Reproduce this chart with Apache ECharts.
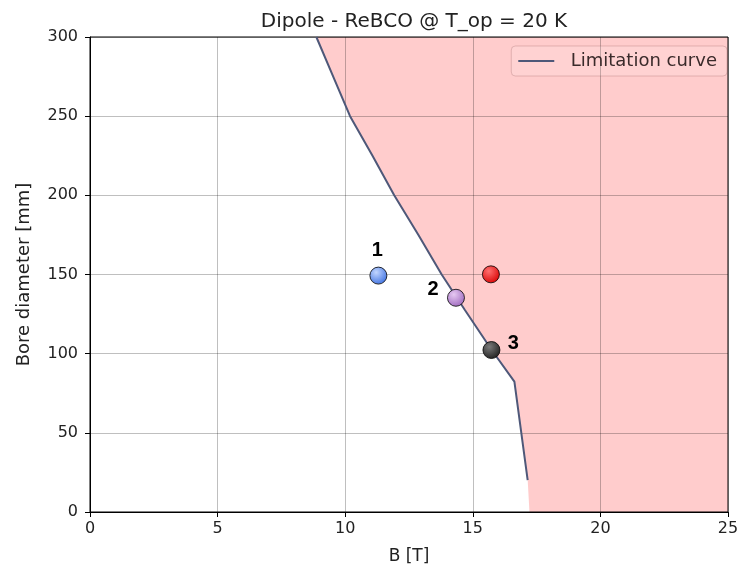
<!DOCTYPE html>
<html><head><meta charset="utf-8">
<script src="https://cdn.jsdelivr.net/npm/echarts@6/dist/echarts.min.js"></script>
<style>html,body{margin:0;padding:0;background:#fff}#c{width:739px;height:565px}</style>
</head><body><div id="c"></div>
<script>
// Limitation curve (B [T], bore diameter [mm])
const curveB = [8.87, 9.53, 10.19, 11.07, 11.92, 12.87, 13.78, 14.69, 15.74, 16.63, 17.15];
const curveD = [300, 275, 250, 225, 200, 175, 150, 127.6, 102.3, 82.3, 20.2];
// Extension of the forbidden region down to the axis and to the right
const fillExtB = [17.22, 25];
const fillExtD = [0, 0];
// Design points
const pointNames = ['1', '2', '', '3'];
const pointB = [11.3, 14.34, 15.71, 15.73];
const pointD = [149.3, 135.3, 150.1, 102.3];
const pointColors = [['#c2d6ff', '#3a6ee0'], ['#e6c8f2', '#9c66bc'], ['#ff7070', '#d80000'], ['#7a7a7a', '#1c1c1c']];

const curve = curveB.map((b, i) => [b, curveD[i]]);
const fillData = curve.concat(fillExtB.map((b, i) => [b, fillExtD[i]]));
const labelOffsets = [[-1, -25], [-23, -8], [0, 0], [22, -7]];
const pts = pointB.map((b, i) => ({
  value: [b, pointD[i]],
  itemStyle: {color: {type: 'radial', x: 0.38, y: 0.32, r: 0.75,
    colorStops: [{offset: 0, color: pointColors[i][0]}, {offset: 1, color: pointColors[i][1]}]}},
  label: {show: pointNames[i] !== '', formatter: pointNames[i], position: 'inside',
    offset: labelOffsets[i], color: '#000', opacity: 1, textBorderWidth: 0,
    fontFamily: 'Liberation Sans', fontSize: 20, fontWeight: 'bold'}
}));

const font = 'DejaVu Sans';
const chart = echarts.init(document.getElementById('c'), null, {renderer: 'canvas'});
chart.setOption({
  animation: false,
  backgroundColor: '#fff',
  title: {text: 'Dipole - ReBCO @ T_op = 20 K', left: 409, top: 7, textAlign: 'center',
    textStyle: {fontFamily: font, fontSize: 20, fontWeight: 'normal', color: '#222'}},
  legend: {
    right: 12, top: 46, itemWidth: 36, itemHeight: 2, itemGap: 6,
    padding: [6, 10, 6, 7],
    backgroundColor: 'rgba(255,255,255,0.12)', borderColor: 'rgba(120,60,60,0.22)', borderWidth: 1, borderRadius: 4,
    textStyle: {fontFamily: font, fontSize: 18, color: '#3a2a2a'},
    formatter: function (n) { return '  ' + n; },
    data: [{name: 'Limitation curve', icon: 'rect'}]
  },
  grid: {left: 90, right: 11, top: 37, bottom: 53, show: true, borderColor: '#000', borderWidth: 1, z: 4,
    containLabel: false, outerBoundsMode: 'none'},
  xAxis: {
    type: 'value', min: 0, max: 25, interval: 5, z: 3,
    name: 'B [T]', nameLocation: 'middle', nameGap: 36,
    nameTextStyle: {fontFamily: font, fontSize: 17, color: '#222'},
    axisLine: {show: true, onZero: false, lineStyle: {color: '#000'}},
    axisTick: {show: true, length: 5, lineStyle: {color: '#000'}},
    axisLabel: {fontFamily: font, fontSize: 16, color: '#222', margin: 9},
    splitLine: {show: true, lineStyle: {color: 'rgba(0,0,0,0.25)', width: 1}}
  },
  yAxis: {
    type: 'value', min: 0, max: 300, interval: 50, z: 3,
    name: 'Bore diameter [mm]', nameLocation: 'middle', nameGap: 57, nameRotate: 90,
    nameTextStyle: {fontFamily: font, fontSize: 18, color: '#222'},
    axisLine: {show: true, onZero: false, lineStyle: {color: '#000'}},
    axisTick: {show: true, length: 5, lineStyle: {color: '#000'}},
    axisLabel: {fontFamily: font, fontSize: 16, color: '#222', margin: 12},
    splitLine: {show: true, lineStyle: {color: 'rgba(0,0,0,0.25)', width: 1}}
  },
  series: [
    {type: 'line', name: 'fill', data: fillData, showSymbol: false, symbol: 'none', z: 1,
      lineStyle: {width: 0, opacity: 0}, areaStyle: {color: 'rgba(255,0,0,0.2)', origin: 'end', opacity: 1},
      silent: true, legendHoverLink: false},
    {type: 'line', name: 'Limitation curve', data: curve, symbol: 'none', z: 5,
      color: '#4e5879', lineStyle: {color: '#4e5879', width: 2}},
    {type: 'scatter', name: 'points', data: pts, symbolSize: 17, z: 6,
      itemStyle: {borderColor: '#000', borderWidth: 0.8, opacity: 1}}
  ]
});
</script></body></html>
